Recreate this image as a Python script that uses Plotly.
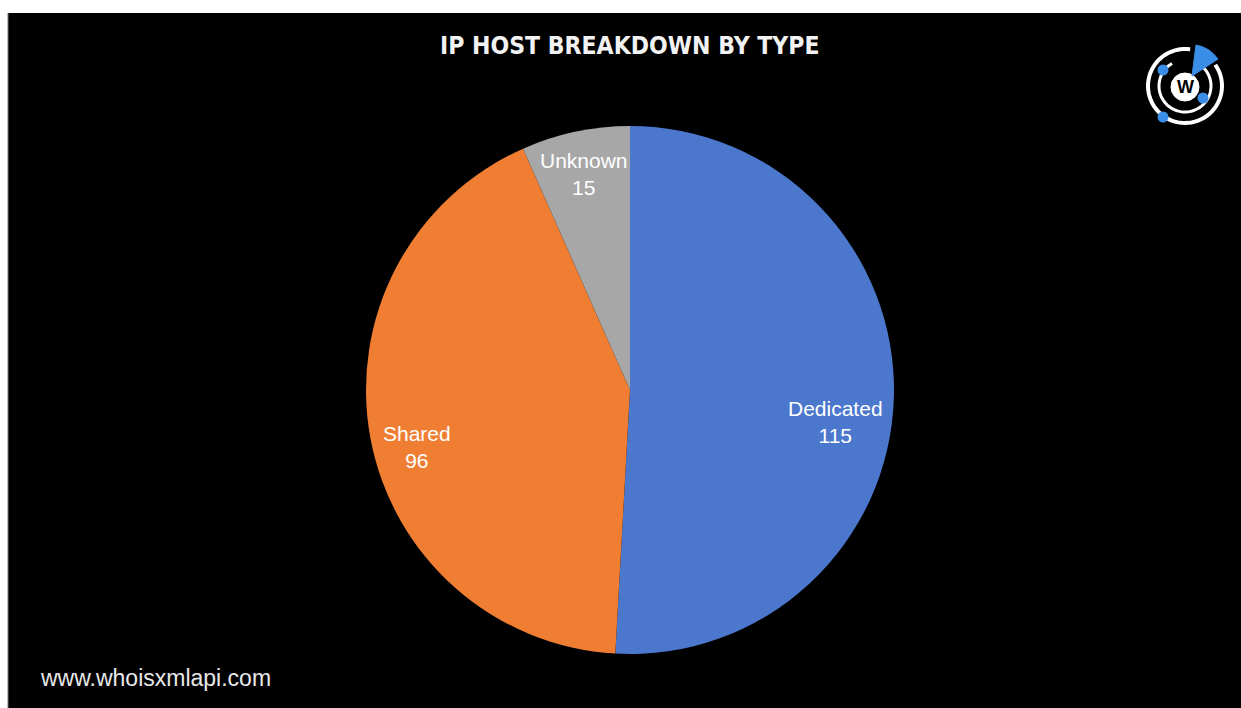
import math
import plotly.graph_objects as go

W, H = 1241, 708

# ---- data ----
categories = ["Dedicated", "Shared", "Unknown"]
values = [115, 96, 15]
colors = ["#4b77cd", "#ef7e33", "#a7a7a7"]
title_text = "IP HOST BREAKDOWN BY TYPE"
footer_text = "www.whoisxmlapi.com"

# label anchor positions (pixels) for the slice labels
label_pos = [(835, 422), (417, 447), (584, 174)]


def px(x):
    return x / W


def py(y):
    return 1 - y / H


cx, cy, R = 630, 390, 264

fig = go.Figure()
fig.add_trace(go.Pie(
    labels=categories,
    values=values,
    sort=False,
    direction="clockwise",
    rotation=0,
    marker=dict(colors=colors, line=dict(width=0)),
    textinfo="none",
    hoverinfo="label+value",
    showlegend=False,
    domain=dict(x=[px(cx - R), px(cx + R)], y=[py(cy + R), py(cy - R)]),
))

annotations = []
for cat, val, (lx, ly) in zip(categories, values, label_pos):
    annotations.append(dict(
        x=px(lx), y=py(ly), xref="paper", yref="paper",
        text=f"{cat}<br>{val}", showarrow=False,
        font=dict(family="Liberation Sans, Arial, sans-serif", size=21, color="white"),
        xanchor="center", yanchor="middle", align="center",
    ))

annotations.append(dict(
    x=px(630), y=py(45), xref="paper", yref="paper",
    text=f"<b>{title_text}</b>", showarrow=False,
    font=dict(family="DejaVu Sans Condensed, DejaVu Sans, sans-serif", size=24.5, color="#f2f2f2"),
    xanchor="center", yanchor="middle",
))
annotations.append(dict(
    x=px(38), y=py(678), xref="paper", yref="paper",
    text=footer_text, showarrow=False,
    font=dict(family="Liberation Sans, Arial, sans-serif", size=23, color="#e8e8e8"),
    xanchor="left", yanchor="middle",
))

# logo
lx0, ly0 = 1185, 86
annotations.append(dict(
    x=px(lx0), y=py(ly0 + 1), xref="paper", yref="paper",
    text="<b>W</b>", showarrow=False,
    font=dict(family="Liberation Sans, Arial, sans-serif", size=18, color="black"),
    xanchor="center", yanchor="middle",
))


def circle(x, y, r, **kw):
    return dict(type="circle", xref="paper", yref="paper",
                x0=px(x - r), x1=px(x + r), y0=py(y + r), y1=py(y - r), layer="above", **kw)


def arc(x, y, r, a0, a1, n=60):
    pts = []
    for i in range(n + 1):
        a = math.radians(a0 + (a1 - a0) * i / n)
        pts.append((px(x + r * math.sin(a)), py(y - r * math.cos(a))))
    return "M " + " L ".join(f"{u},{v}" for u, v in pts)


blue = "#3a8ee8"
shapes = [
    # white frame strips
    dict(type="rect", xref="paper", yref="paper", x0=0, x1=1, y0=py(13), y1=1,
         fillcolor="white", line=dict(width=0), layer="above"),
    dict(type="rect", xref="paper", yref="paper", x0=0, x1=px(8), y0=0, y1=1,
         fillcolor="white", line=dict(width=0), layer="above"),
    dict(type="line", xref="paper", yref="paper", x0=px(8), x1=px(8), y0=0, y1=py(13),
         line=dict(color="#777777", width=1), layer="above"),
    dict(type="path", xref="paper", yref="paper", path=arc(lx0, ly0, 37, 55, 368),
         line=dict(color="white", width=4), layer="above"),
    dict(type="path", xref="paper", yref="paper", path=arc(lx0, ly0, 26, 40, 330),
         line=dict(color="white", width=3), layer="above"),
    circle(lx0, ly0 + 1, 14, fillcolor="white", line=dict(color="white", width=1)),
    dict(type="path", xref="paper", yref="paper",
         path=f"M {px(1192)},{py(76)} L {px(1196)},{py(45)} Q {px(1209)},{py(47)} {px(1218)},{py(59)} Z",
         fillcolor=blue, line=dict(color=blue, width=1), layer="above"),
    circle(1163, 70, 5.5, fillcolor=blue, line=dict(width=0)),
    circle(1203, 98, 5.5, fillcolor=blue, line=dict(width=0)),
    circle(1163, 117, 5.5, fillcolor=blue, line=dict(width=0)),
]

fig.update_layout(
    width=W, height=H,
    margin=dict(l=0, r=0, t=0, b=0),
    paper_bgcolor="black",
    plot_bgcolor="black",
    annotations=annotations,
    shapes=shapes,
)

fig.write_html("out.html")
